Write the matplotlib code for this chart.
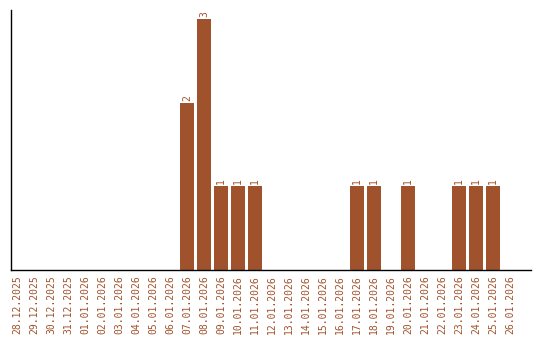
import matplotlib
matplotlib.use("Agg")
import matplotlib.pyplot as plt

dates = ["28.12.2025", "29.12.2025", "30.12.2025", "31.12.2025", "01.01.2026",
         "02.01.2026", "03.01.2026", "04.01.2026", "05.01.2026", "06.01.2026",
         "07.01.2026", "08.01.2026", "09.01.2026", "10.01.2026", "11.01.2026",
         "12.01.2026", "13.01.2026", "14.01.2026", "15.01.2026", "16.01.2026",
         "17.01.2026", "18.01.2026", "19.01.2026", "20.01.2026", "21.01.2026",
         "22.01.2026", "23.01.2026", "24.01.2026", "25.01.2026", "26.01.2026"]
counts = [0, 0, 0, 0, 0, 0, 0, 0, 0, 0,
          2, 3, 1, 1, 1, 0, 0, 0, 0, 0,
          1, 1, 0, 1, 0, 0, 1, 1, 1, 0]

color = "#A0522D"
fig = plt.figure(figsize=(5.4, 3.4), dpi=100)
ax = fig.add_axes([11/540, 70/340, 519.5/540, 260/340])
x = list(range(len(dates)))
bars = ax.bar(x, counts, width=0.82, color=color)
for xi, v in zip(x, counts):
    if v > 0:
        ax.annotate(str(v), (xi, v), xytext=(0, 1.5), textcoords="offset points",
                    rotation=90, ha="center", va="bottom",
                    color=color, fontsize=7, family="DejaVu Sans Mono")
ax.set_xlim(-0.353, 30.2)
ax.set_ylim(0, 3.11)
ax.set_xticks(x)
ax.set_xticklabels(dates, rotation=90, color=color, fontsize=7, family="DejaVu Sans Mono")
ax.tick_params(axis="x", length=0, pad=4)
ax.set_yticks([])
ax.spines["top"].set_visible(False)
ax.spines["right"].set_visible(False)
ax.spines["left"].set_linewidth(1)
ax.spines["bottom"].set_linewidth(1)
fig.savefig("out.png", dpi=100)
